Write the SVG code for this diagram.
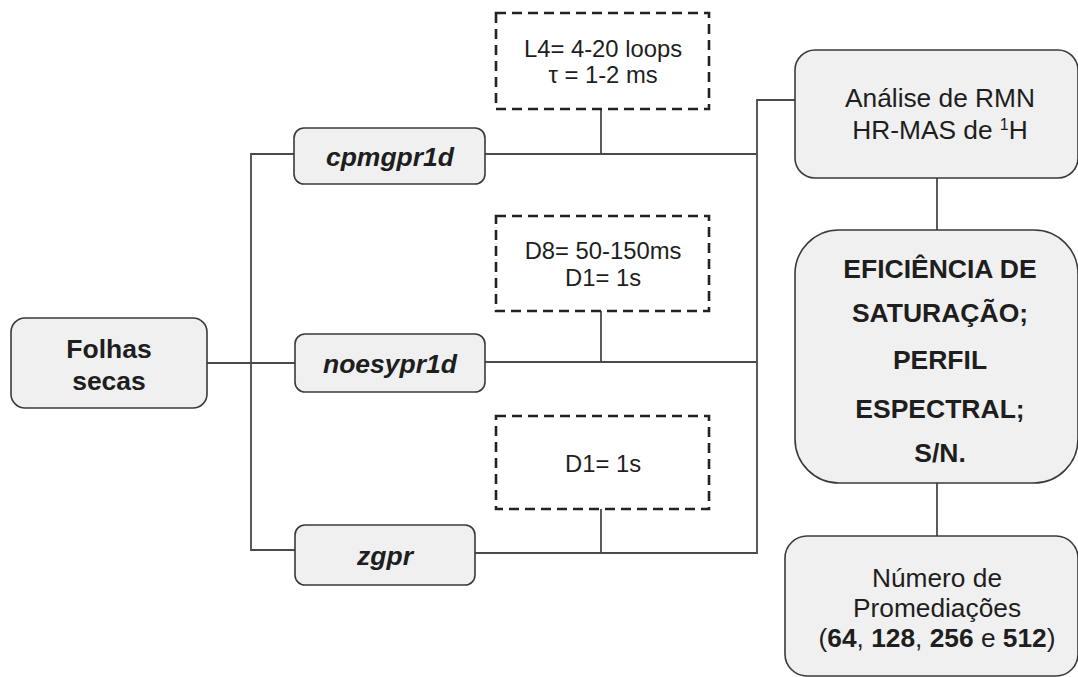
<svg xmlns="http://www.w3.org/2000/svg" width="1078" height="677" viewBox="0 0 1078 677">
<style>
.box{fill:#f0f0f0;stroke:#3a3a3a;stroke-width:1.6}
.dash{fill:none;stroke:#222;stroke-width:2.6;stroke-dasharray:10 6}
.conn{fill:none;stroke:#4a4a4a;stroke-width:1.8}
text{font-family:"Liberation Sans",Arial,sans-serif;fill:#1e1e1e;text-anchor:middle}
.b{font-weight:bold;font-size:26.5px}
.bi{font-weight:bold;font-style:italic;font-size:26.5px}
.r{font-size:26.3px}
.s{font-size:23.8px}
</style>
<rect width="1078" height="677" fill="#ffffff"/>
<g id="connectors">
<path class="conn" d="M207,363 H295"/>
<path class="conn" d="M294,154 H251 V550 H295"/>
<path class="conn" d="M485,154 H757"/>
<path class="conn" d="M485,362 H757"/>
<path class="conn" d="M475,553 H757 V100 H795"/>
<path class="conn" d="M601,109 V154"/>
<path class="conn" d="M601,311 V362"/>
<path class="conn" d="M601,509 V553"/>
<path class="conn" d="M937,178 V230"/>
<path class="conn" d="M937,483 V536"/>
</g>
<g id="folhas">
<rect class="box" x="11" y="318" width="196" height="90" rx="14"/>
<text class="b" x="109" y="358">Folhas</text>
<text class="b" x="109" y="390">secas</text>
</g>
<g id="cpmgpr1d">
<rect class="box" x="294" y="128" width="191" height="56" rx="10"/>
<text class="bi" x="390" y="166">cpmgpr1d</text>
</g>
<g id="noesypr1d">
<rect class="box" x="295" y="334" width="190" height="58" rx="10"/>
<text class="bi" x="390" y="373">noesypr1d</text>
</g>
<g id="zgpr">
<rect class="box" x="295" y="525" width="180" height="60" rx="10"/>
<text class="bi" x="385" y="565">zgpr</text>
</g>
<g id="param1">
<rect class="dash" x="496" y="13" width="213" height="96"/>
<text class="s" x="603" y="57">L4= 4-20 loops</text>
<text class="s" x="603" y="83">τ = 1-2 ms</text>
</g>
<g id="param2">
<rect class="dash" x="496" y="216" width="213" height="95"/>
<text class="s" x="603" y="259">D8= 50-150ms</text>
<text class="s" x="603" y="286">D1= 1s</text>
</g>
<g id="param3">
<rect class="dash" x="496" y="416" width="213" height="93"/>
<text class="s" x="603" y="472">D1= 1s</text>
</g>
<g id="analise">
<rect class="box" x="795" y="50" width="283" height="128" rx="20"/>
<text class="r" x="940" y="107">Análise de RMN</text>
<text class="r" x="940" y="139">HR-MAS de <tspan font-size="16" dy="-9">1</tspan><tspan dy="9">H</tspan></text>
</g>
<g id="eficiencia">
<rect class="box" x="795" y="230" width="283" height="253" rx="44"/>
<text class="b" x="940" y="278">EFICIÊNCIA DE</text>
<text class="b" x="940" y="322">SATURAÇÃO;</text>
<text class="b" x="940" y="369">PERFIL</text>
<text class="b" x="940" y="418">ESPECTRAL;</text>
<text class="b" x="940" y="462">S/N.</text>
</g>
<g id="promediacoes">
<rect class="box" x="785" y="536" width="293" height="140" rx="22"/>
<text class="r" x="937" y="587">Número de</text>
<text class="r" x="937" y="617">Promediações</text>
<text class="r" x="937" y="647">(<tspan font-weight="bold">64</tspan>, <tspan font-weight="bold">128</tspan>, <tspan font-weight="bold">256</tspan> e <tspan font-weight="bold">512</tspan>)</text>
</g>
</svg>
